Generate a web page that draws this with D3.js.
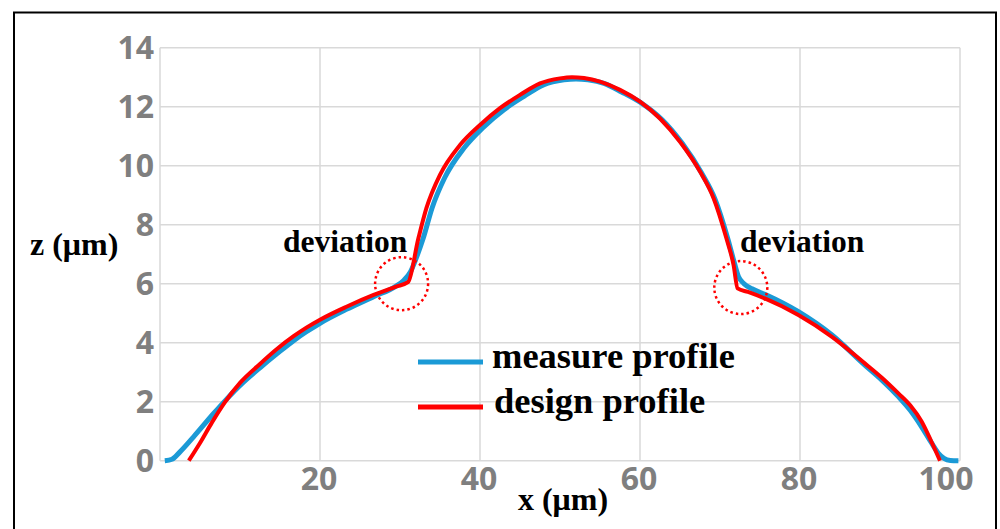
<!DOCTYPE html>
<html><head><meta charset="utf-8">
<script src="https://cdn.jsdelivr.net/npm/d3@7"></script>
<style>body{margin:0;background:#fff;}svg{display:block;}</style>
</head><body>
<svg id="chart" width="1000" height="529"></svg>
<script>
// ---- data ----
const xTicks = [20, 40, 60, 80, 100];
const yTicks = [0, 2, 4, 6, 8, 10, 12, 14];
const seriesNames = ["measure profile", "design profile"];
const measureX = [0.6, 1.5, 2.5, 4.2, 6.7, 8.3, 10.3, 12.5, 14.6, 16.7, 18.3, 20, 23.3, 26.7, 29.5, 30.5, 31.3, 32.0, 32.9, 34.0, 35.6, 38.0, 40.4, 43.0, 45.5, 48.0, 50.5, 52.0, 53.5, 55.5, 57.7, 60.3, 62.8, 65.3, 67.7, 69.4, 71.0, 71.8, 72.3, 73.0, 74.0, 75.6, 79.8, 84.0, 88.1, 90.2, 92.3, 93.8, 95.2, 96.4, 97.3, 98.0, 98.8, 99.8];
const measureZ = [0.0, 0.05, 0.3, 0.81, 1.6, 2.08, 2.63, 3.15, 3.62, 4.07, 4.37, 4.66, 5.13, 5.56, 5.92, 6.12, 6.4, 6.85, 7.54, 8.56, 9.6, 10.6, 11.3, 11.9, 12.35, 12.75, 12.91, 12.94, 12.91, 12.79, 12.5, 12.1, 11.55, 10.75, 9.75, 8.85, 7.5, 6.7, 6.25, 6.0, 5.83, 5.64, 5.05, 4.26, 3.24, 2.74, 2.17, 1.7, 1.15, 0.62, 0.25, 0.08, 0.01, 0.0];
const designX = [3.6, 5.0, 6.5, 8.1, 10.0, 12.5, 14.5, 16.7, 18.3, 20, 23.3, 26.7, 29.5, 31.0, 32.3, 33.3, 35.0, 37.5, 40.0, 42.5, 45.0, 47.5, 50.0, 51.5, 53.0, 55.0, 57.5, 60.0, 62.5, 65.0, 67.5, 69.2, 70.8, 71.7, 72.2, 73.5, 75.6, 79.8, 84.0, 88.1, 90.2, 92.3, 93.8, 95.2, 96.4, 97.5];
const designZ = [0.0, 0.6, 1.3, 1.98, 2.64, 3.28, 3.76, 4.22, 4.51, 4.78, 5.22, 5.62, 5.9, 6.05, 7.54, 8.56, 9.69, 10.7, 11.38, 11.95, 12.4, 12.79, 12.96, 13.0, 12.97, 12.85, 12.57, 12.17, 11.6, 10.81, 9.8, 8.9, 7.54, 6.63, 5.84, 5.72, 5.5, 4.94, 4.2, 3.3, 2.82, 2.28, 1.87, 1.33, 0.66, 0.0];
const deviationX = [30.2, 72.6];
const deviationZ = [6.0, 5.87];

// ---- drawing ----
const svg = d3.select("#chart");
const x = d3.scaleLinear().domain([0, 100]).range([160, 960]);
const y = d3.scaleLinear().domain([0, 14]).range([460.7, 47.7]);
const grid = "#d9d9d9";

// border
svg.append("path").attr("d", "M14,529 L14,12.5 L996,12.5 L996,529")
  .attr("fill", "none").attr("stroke", "#000").attr("stroke-width", 2);

// grid
svg.append("g").selectAll("line").data(yTicks).join("line")
  .attr("x1", x(0)).attr("x2", x(100)).attr("y1", d => y(d)).attr("y2", d => y(d))
  .attr("stroke", grid).attr("stroke-width", 1.5);
svg.append("g").selectAll("line").data([0].concat(xTicks)).join("line")
  .attr("x1", d => x(d)).attr("x2", d => x(d)).attr("y1", y(0)).attr("y2", y(14))
  .attr("stroke", grid).attr("stroke-width", 1.5);

// tick labels
const tickFont = "'Open Sans', sans-serif";
svg.append("g").selectAll("text").data(yTicks).join("text")
  .attr("x", 154).attr("y", d => y(d)).attr("dy", "0.36em")
  .attr("text-anchor", "end").attr("font-family", tickFont).attr("font-weight", 700)
  .attr("font-size", 32).attr("fill", "#7f7f7f").text(d => d);
svg.append("g").selectAll("text").data(xTicks).join("text")
  .attr("x", d => d === 100 ? x(d) - 14 : x(d) - 1).attr("y", 490)
  .attr("text-anchor", "middle").attr("font-family", tickFont).attr("font-weight", 700)
  .attr("font-size", 32).attr("fill", "#7f7f7f").text(d => d);

// axis titles
const serif = "'Liberation Serif', 'Times New Roman', serif";
svg.append("text").attr("x", 30).attr("y", 255).attr("font-family", serif).attr("font-weight", 700)
  .attr("font-size", 32).attr("fill", "#000").text("z (μm)");
svg.append("text").attr("x", 563).attr("y", 510).attr("text-anchor", "middle").attr("font-family", serif)
  .attr("font-weight", 700).attr("font-size", 32).attr("fill", "#000").text("x (μm)");

// lines
const line = d3.line().x(d => x(d[0])).y(d => y(d[1])).curve(d3.curveMonotoneX);
const measure = measureX.map((v, i) => [v, measureZ[i]]);
const design = designX.map((v, i) => [v, designZ[i]]);
svg.append("path").datum(measure).attr("d", line).attr("fill", "none")
  .attr("stroke", "#1b9ad6").attr("stroke-width", 5).attr("stroke-linejoin", "round");
svg.append("path").datum(design).attr("d", line).attr("fill", "none")
  .attr("stroke", "#ff0000").attr("stroke-width", 4).attr("stroke-linejoin", "round");

// deviation circles
svg.append("g").selectAll("circle").data(deviationX).join("circle")
  .attr("cx", d => x(d)).attr("cy", (d, i) => y(deviationZ[i])).attr("r", 26.5)
  .attr("fill", "none").attr("stroke", "#ff0000").attr("stroke-width", 2.5)
  .attr("stroke-dasharray", "2.5,3");
svg.append("g").selectAll("text").data([283, 740]).join("text")
  .attr("x", d => d).attr("y", 252).attr("font-family", serif).attr("font-weight", 700)
  .attr("font-size", 31.5).attr("fill", "#000").text("deviation");

// legend
const legColors = ["#1b9ad6", "#ff0000"];
const legY = [362, 407];
const leg = svg.append("g");
leg.selectAll("line").data(seriesNames).join("line")
  .attr("x1", 418).attr("x2", 483).attr("y1", (d, i) => legY[i]).attr("y2", (d, i) => legY[i])
  .attr("stroke", (d, i) => legColors[i]).attr("stroke-width", 5);
leg.selectAll("text").data(seriesNames).join("text")
  .attr("x", (d, i) => i === 0 ? 492 : 494).attr("y", (d, i) => legY[i] + 5.5)
  .attr("font-family", serif).attr("font-weight", 700).attr("font-size", 36.5)
  .attr("fill", "#000").text(d => d);
</script>
</body></html>
